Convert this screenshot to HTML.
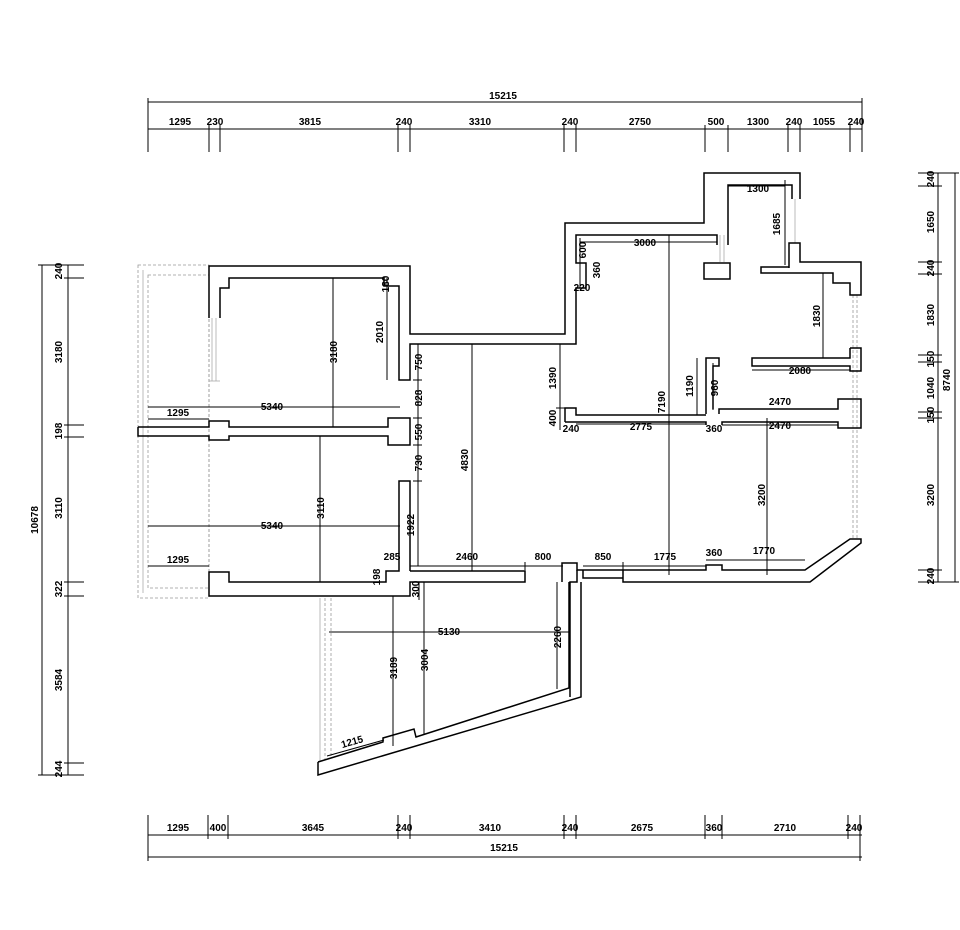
<!DOCTYPE html>
<html><head><meta charset="utf-8"><style>
html,body{margin:0;padding:0;background:#fff;}
svg{display:block;}
text{font-family:"Liberation Sans Narrow","Liberation Sans",sans-serif;font-weight:bold;font-size:10px;fill:#000;}
</style></head><body>
<svg width="960" height="930" viewBox="0 0 960 930" xmlns="http://www.w3.org/2000/svg">
<g stroke="#000" stroke-width="1" fill="none">
<!-- top dims -->
<line x1="148" y1="102" x2="862" y2="102"/>
<line x1="148" y1="129" x2="862" y2="129"/>
<g>
<line x1="148" y1="98" x2="148" y2="152"/><line x1="862" y1="98" x2="862" y2="152"/>
<line x1="209" y1="125" x2="209" y2="152"/><line x1="220" y1="125" x2="220" y2="152"/>
<line x1="398" y1="125" x2="398" y2="152"/><line x1="410" y1="125" x2="410" y2="152"/>
<line x1="564" y1="125" x2="564" y2="152"/><line x1="576" y1="125" x2="576" y2="152"/>
<line x1="705" y1="125" x2="705" y2="152"/><line x1="728" y1="125" x2="728" y2="152"/>
<line x1="788" y1="125" x2="788" y2="152"/><line x1="800" y1="125" x2="800" y2="152"/>
<line x1="850" y1="125" x2="850" y2="152"/>
</g>
<!-- bottom dims -->
<line x1="148" y1="835" x2="862" y2="835"/>
<line x1="148" y1="857" x2="862" y2="857"/>
<g>
<line x1="148" y1="815" x2="148" y2="861"/><line x1="860" y1="815" x2="860" y2="861"/>
<line x1="208" y1="815" x2="208" y2="839"/><line x1="228" y1="815" x2="228" y2="839"/>
<line x1="398" y1="815" x2="398" y2="839"/><line x1="410" y1="815" x2="410" y2="839"/>
<line x1="564" y1="815" x2="564" y2="839"/><line x1="576" y1="815" x2="576" y2="839"/>
<line x1="705" y1="815" x2="705" y2="839"/><line x1="722" y1="815" x2="722" y2="839"/>
<line x1="848" y1="815" x2="848" y2="839"/>
</g>
<!-- left dims -->
<line x1="42" y1="265" x2="42" y2="775"/>
<line x1="68" y1="265" x2="68" y2="775"/>
<g>
<line x1="38" y1="265" x2="84" y2="265"/><line x1="64" y1="278" x2="84" y2="278"/>
<line x1="64" y1="425" x2="84" y2="425"/><line x1="64" y1="437" x2="84" y2="437"/>
<line x1="64" y1="582" x2="84" y2="582"/><line x1="64" y1="596" x2="84" y2="596"/>
<line x1="64" y1="763" x2="84" y2="763"/><line x1="38" y1="775" x2="84" y2="775"/>
</g>
<!-- right dims -->
<line x1="938" y1="173" x2="938" y2="582"/>
<line x1="955" y1="173" x2="955" y2="582"/>
<g>
<line x1="918" y1="173" x2="959" y2="173"/><line x1="918" y1="186" x2="942" y2="186"/>
<line x1="918" y1="262" x2="942" y2="262"/><line x1="918" y1="274" x2="942" y2="274"/>
<line x1="918" y1="355" x2="942" y2="355"/><line x1="918" y1="362" x2="942" y2="362"/>
<line x1="918" y1="412" x2="942" y2="412"/><line x1="918" y1="418" x2="942" y2="418"/>
<line x1="918" y1="570" x2="942" y2="570"/><line x1="918" y1="582" x2="959" y2="582"/>
</g>
</g>

<!-- balcony dashed -->
<g stroke="#999" stroke-width="0.8" fill="none" stroke-dasharray="3,2">
<rect x="138" y="265" width="71" height="333"/>
<rect x="148" y="275" width="61" height="313"/>
<line x1="325" y1="598" x2="325" y2="760"/>
<line x1="331" y1="598" x2="331" y2="758"/>
<line x1="853" y1="295" x2="853" y2="538"/>
<line x1="857" y1="295" x2="857" y2="538"/>
</g>
<g stroke="#aaa" stroke-width="0.8" fill="none">
<line x1="143" y1="270" x2="143" y2="593"/>
<line x1="212" y1="318" x2="212" y2="381"/><line x1="216" y1="318" x2="216" y2="381"/>
<line x1="209" y1="381" x2="220" y2="381"/>
<line x1="720" y1="235" x2="720" y2="262"/><line x1="724" y1="235" x2="724" y2="262"/>
<line x1="795" y1="199" x2="795" y2="243"/>
<line x1="320" y1="598" x2="320" y2="762"/>
</g>

<!-- walls -->
<g stroke="#000" stroke-width="1.5" fill="none" stroke-linejoin="miter">
<polyline points="209,318 209,266 410,266 410,334 565,334 565,223 704,223 704,173 800,173 800,199"/>
<polyline points="220,318 220,288 229,288 229,278 384,278 384,286 399,286 399,380 410,380 410,344 576,344 576,288 586,288 586,263 576,263 576,235 717,235 717,245"/>
<polyline points="728,245 728,185 792,185 792,199"/>
<rect x="704" y="263" width="26" height="16"/>
<polyline points="789,268 789,243 800,243 800,262 861,262 861,295 850,295 850,283 833,283 833,273 761,273 761,267 789,267"/>
<polyline points="850,348 861,348 861,371 850,371 850,366 752,366 752,358 850,358 850,348"/>
<polyline points="719,414 719,409 838,409 838,399 861,399 861,428 838,428 838,422 722,422 722,425"/>
<polyline points="706,414 706,358 719,358 719,366 713,366 713,409"/>
<polyline points="565,422 565,408 576,408 576,415 706,415"/>
<polyline points="565,422 706,422 706,425"/>
<!-- bottom right -->
<polyline points="583,570 577,570 577,563 562,563 562,582"/>
<polyline points="577,570 577,582 570,582 570,697"/>
<polyline points="583,570 583,578 623,578"/>
<line x1="583" y1="570" x2="623" y2="570"/>
<polyline points="623,570 706,570 706,565 722,565 722,570 805,570 850,539 861,539 861,543 810,582 623,582 623,570"/>
<!-- left bedroom mid wall -->
<polyline points="138,427 209,427 209,421 229,421 229,427 388,427 388,418 410,418 410,445 388,445 388,436 229,436 229,440 209,440 209,436 138,436 138,427"/>
<!-- lower bedroom -->
<polyline points="399,563 399,481 410,481 410,571"/>
<polyline points="410,571 525,571 525,582 410,582 410,596 209,596 209,572 229,572 229,582 386,582 386,571 399,571 399,563"/>
<!-- trapezoid -->
<polyline points="318,762 318,775 581,697 581,582"/>
<polyline points="318,762 383,742 383,738 414,729 416,737 569,688 569,582"/>
</g>

<!-- interior dims -->
<g stroke="#000" stroke-width="1" fill="none">
<line x1="333" y1="278" x2="333" y2="427"/>
<line x1="320" y1="436" x2="320" y2="582"/>
<line x1="148" y1="407" x2="400" y2="407"/>
<line x1="148" y1="419" x2="209" y2="419"/>
<line x1="148" y1="526" x2="400" y2="526"/>
<line x1="148" y1="566" x2="209" y2="566"/>
<line x1="387" y1="278" x2="387" y2="380"/>
<line x1="418" y1="344" x2="418" y2="566"/>
<line x1="413" y1="380" x2="422" y2="380"/><line x1="413" y1="418" x2="422" y2="418"/>
<line x1="413" y1="445" x2="422" y2="445"/><line x1="413" y1="481" x2="422" y2="481"/>
<line x1="472" y1="344" x2="472" y2="571"/>
<line x1="410" y1="566" x2="563" y2="566"/>
<line x1="525" y1="562" x2="525" y2="570"/>
<line x1="419" y1="582" x2="419" y2="600"/><line x1="424" y1="582" x2="424" y2="735"/>
<line x1="329" y1="632" x2="570" y2="632"/>
<line x1="393" y1="596" x2="393" y2="746"/>
<line x1="557" y1="582" x2="557" y2="689"/>
<line x1="327" y1="756" x2="384" y2="740"/>
<line x1="560" y1="344" x2="560" y2="430"/>
<line x1="556" y1="408" x2="566" y2="408"/>
<line x1="576" y1="424" x2="706" y2="424"/>
<line x1="669" y1="235" x2="669" y2="575"/>
<line x1="580" y1="242" x2="717" y2="242"/>
<line x1="580" y1="238" x2="580" y2="288"/>
<line x1="728" y1="186" x2="785" y2="186"/>
<line x1="785" y1="180" x2="785" y2="265"/>
<line x1="823" y1="273" x2="823" y2="358"/>
<line x1="752" y1="370" x2="850" y2="370"/>
<line x1="697" y1="358" x2="697" y2="415"/>
<line x1="713" y1="363" x2="713" y2="410"/>
<line x1="722" y1="409" x2="838" y2="409"/>
<line x1="722" y1="425" x2="838" y2="425"/>
<line x1="767" y1="418" x2="767" y2="575"/>
<line x1="583" y1="566" x2="706" y2="566"/>
<line x1="623" y1="562" x2="623" y2="570"/>
<line x1="706" y1="560" x2="722" y2="560"/>
<line x1="722" y1="560" x2="805" y2="560"/>
</g>

<!-- labels -->
<g text-anchor="middle">
<text x="503" y="99">15215</text>
<text x="180" y="125">1295</text><text x="215" y="125">230</text><text x="310" y="125">3815</text>
<text x="404" y="125">240</text><text x="480" y="125">3310</text><text x="570" y="125">240</text>
<text x="640" y="125">2750</text><text x="716" y="125">500</text><text x="758" y="125">1300</text>
<text x="794" y="125">240</text><text x="824" y="125">1055</text><text x="856" y="125">240</text>

<text x="178" y="831">1295</text><text x="218" y="831">400</text><text x="313" y="831">3645</text>
<text x="404" y="831">240</text><text x="490" y="831">3410</text><text x="570" y="831">240</text>
<text x="642" y="831">2675</text><text x="714" y="831">360</text><text x="785" y="831">2710</text>
<text x="854" y="831">240</text>
<text x="504" y="851">15215</text>

<g transform="rotate(-90)">
<text x="-271" y="62">240</text><text x="-352" y="62">3180</text><text x="-431" y="62">198</text>
<text x="-508" y="62">3110</text><text x="-589" y="62">322</text><text x="-680" y="62">3584</text>
<text x="-769" y="62">244</text><text x="-520" y="38">10678</text>

<text x="-179" y="934">240</text><text x="-222" y="934">1650</text><text x="-268" y="934">240</text>
<text x="-315" y="934">1830</text><text x="-359" y="934">150</text><text x="-388" y="934">1040</text>
<text x="-415" y="934">150</text><text x="-495" y="934">3200</text><text x="-576" y="934">240</text>
<text x="-380" y="950">8740</text>

<text x="-352" y="337">3180</text><text x="-508" y="324">3110</text>
<text x="-284" y="389">180</text><text x="-332" y="383">2010</text>
<text x="-362" y="422">750</text><text x="-398" y="422">828</text><text x="-432" y="422">550</text>
<text x="-463" y="422">730</text><text x="-525" y="414">1922</text>
<text x="-460" y="468">4830</text>
<text x="-589" y="419">300</text>
<text x="-668" y="397">3189</text><text x="-660" y="428">3004</text><text x="-637" y="561">2260</text>
<text x="-378" y="556">1390</text><text x="-418" y="556">400</text>
<text x="-402" y="665">7190</text>
<text x="-250" y="586">600</text><text x="-270" y="600">360</text>
<text x="-224" y="780">1685</text><text x="-316" y="820">1830</text>
<text x="-386" y="693">1190</text><text x="-388" y="718">960</text>
<text x="-495" y="765">3200</text>
<text x="-577" y="380">198</text>
</g>

<text x="272" y="410">5340</text><text x="178" y="416">1295</text>
<text x="272" y="529">5340</text><text x="178" y="563">1295</text>
<text x="392" y="560">285</text>
<text x="467" y="560">2460</text><text x="543" y="560">800</text>
<text x="449" y="635">5130</text>
<text x="353" y="745" transform="rotate(-16 353 745)">1215</text>
<text x="571" y="432">240</text><text x="641" y="430">2775</text><text x="714" y="432">360</text>
<text x="645" y="246">3000</text><text x="582" y="291">220</text>
<text x="758" y="192">1300</text>
<text x="800" y="374">2080</text>
<text x="780" y="405">2470</text><text x="780" y="429">2470</text>
<text x="603" y="560">850</text><text x="665" y="560">1775</text><text x="714" y="556">360</text>
<text x="764" y="554">1770</text>
</g>
</svg>
</body></html>
